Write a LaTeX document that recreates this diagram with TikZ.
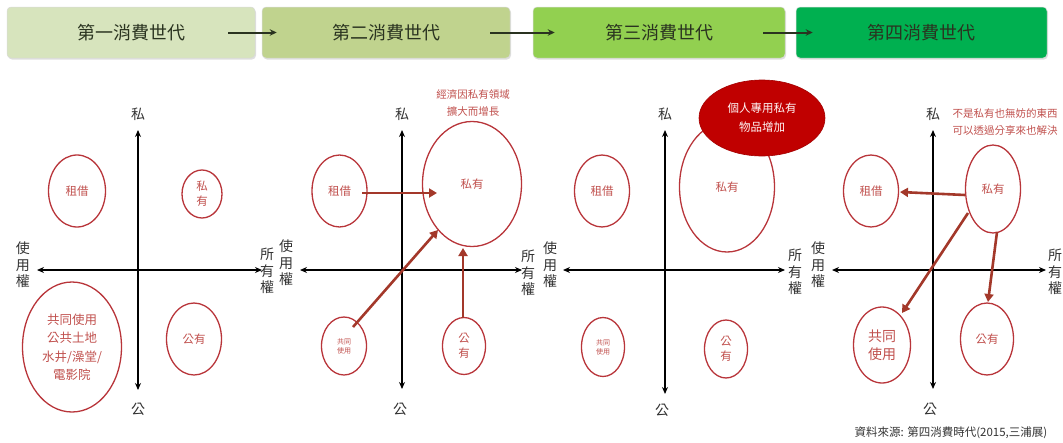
\documentclass[tikz,border=0pt]{standalone}
\usepackage{fontspec}
\newfontfamily\cjk{Noto Sans CJK TC}
\usetikzlibrary{arrows.meta,shapes.geometric,calc,shadows}
\definecolor{gA}{HTML}{D7E4BD}
\definecolor{gB}{HTML}{C0D38E}
\definecolor{gC}{HTML}{92D050}
\definecolor{gD}{HTML}{00B050}
\definecolor{txtdark}{HTML}{2A3320}
\definecolor{ellred}{HTML}{B8353A}
\definecolor{lblred}{HTML}{C0504D}
\definecolor{arrred}{HTML}{A3382A}
\definecolor{blobred}{HTML}{C00000}
\definecolor{axtxt}{HTML}{333333}
\begin{document}
\begin{tikzpicture}[x=1pt,y=-1pt,
  tbox/.style={rounded corners=4pt, minimum width=#1, minimum height=51pt, inner sep=0pt,
    font=\fontsize{18}{20}\cjk, text=txtdark, draw=black!15, line width=0.5pt,
    drop shadow={opacity=0.25, shadow xshift=1pt, shadow yshift=-1.5pt}},
  tarr/.style={-{Stealth[length=7pt,width=6.5pt]}, line width=2pt, color=txtdark},
  ell/.style={ellipse, draw=ellred, line width=1.3pt, inner sep=0pt, text=lblred,
    font=\fontsize{11.5}{15}\cjk, align=center},
  axis/.style={{Stealth[length=7pt,width=6pt]}-{Stealth[length=7pt,width=6pt]}, line width=1.8pt, black},
  lbl/.style={font=\fontsize{14}{16.5}\cjk, text=axtxt, align=center, inner sep=0pt},
  rarr/.style={-{Triangle[length=8pt,width=9pt]}, line width=2.6pt, color=arrred},
  note/.style={font=\fontsize{10.5}{17}\cjk, text=lblred, align=center, inner sep=0pt}]
\path[use as bounding box] (0,0) rectangle (1063,442);
\clip (0,0) rectangle (1063,442);

% ---- top generation boxes ----
\node[tbox=248pt, fill=gA] (t1) at (131,32.5) {第一消費世代};
\node[tbox=248pt, fill=gB] (t2) at (386,32.5) {第二消費世代};
\node[tbox=252pt, fill=gC] (t3) at (659,32.5) {第三消費世代};
\node[tbox=251pt, fill=gD] (t4) at (921.5,32.5) {第四消費世代};
\draw[tarr] ([xshift=-27pt]t1.east) -- ([xshift=15pt]t2.west);
\draw[tarr] ([xshift=-20pt]t2.east) -- ([xshift=22pt]t3.west);
\draw[tarr] ([xshift=-22pt]t3.east) -- ([xshift=17pt]t4.west);

% ---- panel 1 ----
\coordinate (p1t) at (138,130); \coordinate (p1b) at (138,390);
\coordinate (p1l) at (37,270);  \coordinate (p1r) at (262,270);
\draw[axis] (p1t) -- (p1b);
\draw[axis] (p1l) -- (p1r);
\node[lbl] (p1s) at (138,114) {私};
\node[lbl] (p1g) at (138,409) {公};
\node[lbl] (p1u) at (23,265) {使\\用\\權};
\node[lbl] (p1o) at (267,271) {所\\有\\權};
\node[ell, minimum width=57pt, minimum height=72pt] (a1) at (77,191) {租借};
\node[ell, minimum width=40pt, minimum height=48pt] (a2) at (202,194) {私\\有};
\node[ell, minimum width=99pt, minimum height=130pt, font=\fontsize{12.5}{18.5}\cjk] (a3) at (72,347) {共同使用\\公共土地\\水井/澡堂/\\電影院};
\node[ell, minimum width=55pt, minimum height=72pt] (a4) at (194,339) {公有};

% ---- panel 2 ----
\coordinate (p2t) at (402,130); \coordinate (p2b) at (402,389);
\coordinate (p2l) at (300,270); \coordinate (p2r) at (522,270);
\draw[axis] (p2t) -- (p2b);
\draw[axis] (p2l) -- (p2r);
\node[lbl] (p2s) at (402,114) {私};
\node[lbl] (p2g) at (400,409) {公};
\node[lbl] (p2u) at (286,263) {使\\用\\權};
\node[lbl] (p2o) at (528,273) {所\\有\\權};
\node[ell, minimum width=55pt, minimum height=72pt] (b1) at (339.5,191) {租借};
\node[ell, minimum width=99pt, minimum height=125pt] (b2) at (472,184) {私有};
\node[ell, minimum width=45pt, minimum height=58pt, font=\fontsize{7}{9}\cjk] (b3) at (344,346) {共同\\使用};
\node[ell, minimum width=43pt, minimum height=57pt] (b4) at (464,346) {公\\有};
\node[note] (b5) at (473,103) {經濟因私有領域\\擴大而增長};
\draw[rarr] ($(b1)+(22.5,2)$) -- ($(b2)+(-35,9)$);
\draw[rarr] ($(b3)+(9,-19)$) -- ($(b2)+(-34,46)$);
\draw[rarr] ($(b4)+(-1,-28)$) -- ($(b2)+(-9,64)$);

% ---- panel 3 ----
\coordinate (p3t) at (665,130); \coordinate (p3b) at (665,394);
\coordinate (p3l) at (563,270); \coordinate (p3r) at (785,270);
\draw[axis] (p3t) -- (p3b);
\draw[axis] (p3l) -- (p3r);
\node[lbl] (p3s) at (665,114) {私};
\node[lbl] (p3g) at (662,410) {公};
\node[lbl] (p3u) at (550,265) {使\\用\\權};
\node[lbl] (p3o) at (795,272) {所\\有\\權};
\node[ell, minimum width=55pt, minimum height=72pt] (c1) at (602,191) {租借};
\node[ell, minimum width=95pt, minimum height=130pt] (c2) at (727,187) {私有};
\node[ell, minimum width=43pt, minimum height=59pt, font=\fontsize{7}{9}\cjk] (c3) at (603,347) {共同\\使用};
\node[ell, minimum width=43pt, minimum height=58pt] (c4) at (726,349) {公\\有};
\node[ellipse, fill=blobred, draw=blobred!85!black, line width=0.6pt, minimum width=126pt, minimum height=76pt,
  inner sep=0pt, text=white!85!pink, font=\fontsize{11.5}{19}\cjk, align=center] (c5) at (762,118) {個人專用私有\\物品增加};

% ---- panel 4 ----
\coordinate (p4t) at (933,130); \coordinate (p4b) at (933,389);
\coordinate (p4l) at (832,270); \coordinate (p4r) at (1046,270);
\draw[axis] (p4t) -- (p4b);
\draw[axis] (p4l) -- (p4r);
\node[lbl] (p4s) at (933,114) {私};
\node[lbl] (p4g) at (930,409) {公};
\node[lbl] (p4u) at (818,265) {使\\用\\權};
\node[lbl] (p4o) at (1055,272) {所\\有\\權};
\node[ell, minimum width=55pt, minimum height=72pt] (d1) at (871,191) {租借};
\node[ell, minimum width=55pt, minimum height=88pt] (d2) at (993,189) {私有};
\node[ell, minimum width=57pt, minimum height=76pt, font=\fontsize{14}{18}\cjk] (d3) at (882,345) {共同\\使用};
\node[ell, minimum width=53pt, minimum height=72pt] (d4) at (987,339) {公有};
\node[note] (d5) at (1005,122) {不是私有也無妨的東西\\可以透過分享來也解決};
\draw[rarr] ($(d2)+(-28,6)$) -- ($(d1)+(29,1)$);
\draw[rarr] ($(d2)+(-25,24)$) -- ($(d3)+(20,-32)$);
\draw[rarr] ($(d2)+(4,43)$) -- ($(d4)+(1,-37)$);

% ---- source ----
\node[font=\fontsize{11.5}{14}\cjk, text=axtxt, inner sep=0pt] (src) at (951,433) {資料來源: 第四消費時代(2015,三浦展)};
\end{tikzpicture}
\end{document}
